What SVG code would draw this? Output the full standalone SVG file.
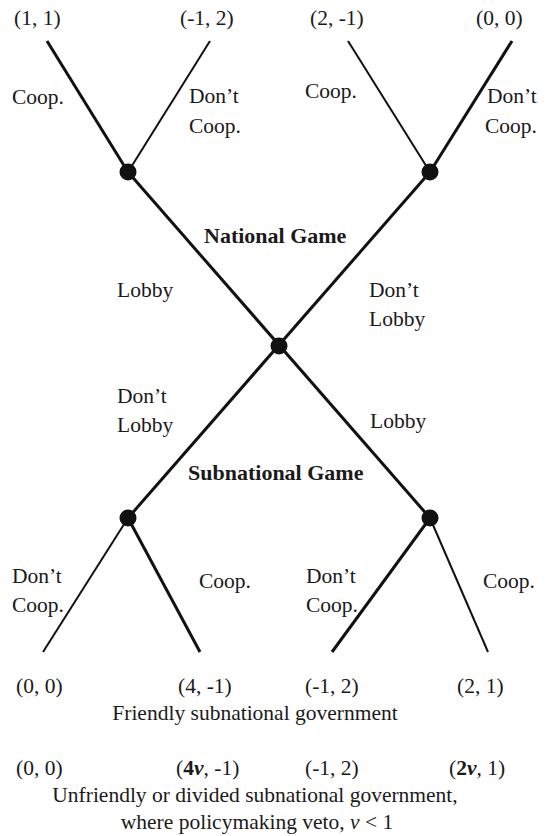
<svg xmlns="http://www.w3.org/2000/svg" width="548" height="836" viewBox="0 0 548 836">
<style>
text{font-family:"Liberation Serif","Times New Roman",serif;font-size:21.5px;fill:#1a1a1a}
.b{font-weight:bold;font-size:22px}
.c{text-anchor:middle}
.thick{stroke:#111;stroke-width:3;fill:none;stroke-linecap:butt}
.thin{stroke:#111;stroke-width:2;fill:none}
.node{fill:#111}
</style>
<rect width="548" height="836" fill="#fff"/>
<g id="connectors">
<line class="thick" x1="47" y1="41" x2="128" y2="172"/>
<line class="thin" x1="210" y1="41" x2="128" y2="172"/>
<line class="thin" x1="348" y1="41" x2="430" y2="172"/>
<line class="thick" x1="512" y1="41" x2="430" y2="172"/>
<line class="thick" x1="128" y1="172" x2="430" y2="518"/>
<line class="thick" x1="430" y1="172" x2="128" y2="518"/>
<line class="thin" x1="128" y1="518" x2="43" y2="652"/>
<line class="thick" x1="128" y1="518" x2="200" y2="652"/>
<line class="thick" x1="430" y1="518" x2="332" y2="652"/>
<line class="thin" x1="430" y1="518" x2="488" y2="652"/>
</g>
<g id="node-national-left"><circle class="node" cx="128" cy="172" r="8.5"/></g>
<g id="node-national-right"><circle class="node" cx="430" cy="172" r="8.5"/></g>
<g id="node-root"><circle class="node" cx="279" cy="346" r="8.5"/></g>
<g id="node-sub-left"><circle class="node" cx="128" cy="518" r="8.5"/></g>
<g id="node-sub-right"><circle class="node" cx="430" cy="518" r="8.5"/></g>
<g id="payoffs-top">
<text x="14" y="25">(1, 1)</text>
<text x="180" y="25">(-1, 2)</text>
<text x="310" y="25">(2, -1)</text>
<text x="476" y="25">(0, 0)</text>
</g>
<g id="labels">
<text x="12" y="104">Coop.</text>
<text x="189" y="103">Don’t</text>
<text x="189" y="133">Coop.</text>
<text x="305" y="98">Coop.</text>
<text x="487" y="103">Don’t</text>
<text x="485" y="133">Coop.</text>
<text class="b" x="204" y="243">National Game</text>
<text x="117" y="297">Lobby</text>
<text x="369" y="297">Don’t</text>
<text x="369" y="326">Lobby</text>
<text x="117" y="403">Don’t</text>
<text x="117" y="432">Lobby</text>
<text x="370" y="428">Lobby</text>
<text class="b" x="188" y="480">Subnational Game</text>
<text x="12" y="583">Don’t</text>
<text x="12" y="612">Coop.</text>
<text x="199" y="588">Coop.</text>
<text x="306" y="583">Don’t</text>
<text x="306" y="612">Coop.</text>
<text x="483" y="588">Coop.</text>
</g>
<g id="payoffs-bottom">
<text x="16" y="693">(0, 0)</text>
<text x="178" y="693">(4, -1)</text>
<text x="305" y="693">(-1, 2)</text>
<text x="457" y="693">(2, 1)</text>
<text class="c" x="255" y="720">Friendly subnational government</text>
<text x="16" y="775">(0, 0)</text>
<text x="176" y="775">(<tspan font-weight="bold">4<tspan font-style="italic">v</tspan></tspan>, -1)</text>
<text x="305" y="775">(-1, 2)</text>
<text x="449" y="775">(<tspan font-weight="bold">2<tspan font-style="italic">v</tspan></tspan>, 1)</text>
<text class="c" x="255" y="802">Unfriendly or divided subnational government,</text>
<text class="c" x="257" y="829">where policymaking veto, <tspan font-style="italic">v</tspan> &lt; 1</text>
</g>
</svg>
